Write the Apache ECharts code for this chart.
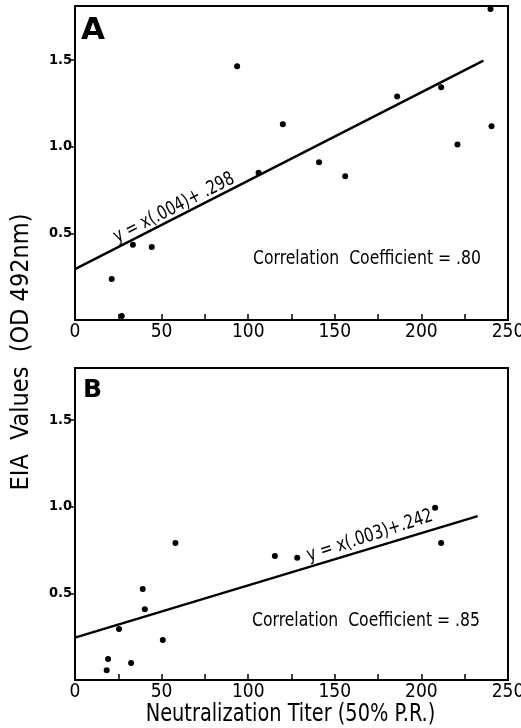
<!DOCTYPE html>
<html>
<head>
<meta charset="utf-8">
<script src="https://cdn.jsdelivr.net/npm/echarts@6/dist/echarts.min.js"></script>
<style>
html,body{margin:0;padding:0;background:#fff;}
#c{width:521px;height:728px;}
</style>
</head>
<body>
<div id="c"></div>
<script>
// Panel A data (Neutralization titer vs EIA OD)
var xA = [93.6, 120, 140.9, 186, 211.4, 220.8, 239.9, 240.5, 106, 156, 33.4, 44.3, 21.2, 27];
var yA = [1.462, 1.128, 0.910, 1.289, 1.341, 1.011, 1.792, 1.117, 0.849, 0.829, 0.434, 0.421, 0.236, 0.023];
// Panel B data
var xB = [58, 115.4, 128.3, 211.4, 207.9, 39.1, 40.3, 25.4, 50.7, 19.1, 32.4, 18.3];
var yB = [0.791, 0.716, 0.706, 0.791, 0.994, 0.525, 0.408, 0.294, 0.231, 0.121, 0.098, 0.056];
// Regression lines as drawn
var lineAx = [0, 235.8];
var lineAy = [0.293, 1.495];
var lineBx = [0, 232.5];
var lineBy = [0.244, 0.946];
// Ticks
var xLabelVals = [0, 50, 100, 150, 200, 250];
var xTickVals = [25, 50, 75, 100, 125, 150, 175, 200, 225];
var yLabelVals = [0.5, 1.0, 1.5];

var FONT = "'Liberation Sans Narrow', 'DejaVu Sans Condensed', 'DejaVu Sans', sans-serif";

function pairs(xs, ys){ return xs.map(function(x,i){ return [x, ys[i]]; }); }

function xAxisDef(gi){
  return {
    type:'value', gridIndex: gi, min:0, max:250,
    axisLine:{show:true, lineStyle:{color:'#000', width:2}},
    axisTick:{show:true, inside:true, length:6, customValues:xTickVals, lineStyle:{color:'#000', width:1.5}},
    axisLabel:{customValues:xLabelVals, color:'#000', fontSize:19, fontFamily:FONT, margin:3},
    splitLine:{show:false}
  };
}
function yAxisDef(gi, mx){
  return {
    type:'value', gridIndex: gi, min:0, max:mx,
    axisLine:{show:true, lineStyle:{color:'#000', width:2}},
    axisTick:{show:true, inside:false, length:4, customValues:yLabelVals, lineStyle:{color:'#000', width:1.5}},
    axisLabel:{customValues:yLabelVals, color:'#000', fontSize:14.5, fontWeight:'bold', fontFamily:FONT, margin:3,
      formatter:function(v){ return v.toFixed(1); }},
    splitLine:{show:false}
  };
}

var chart = echarts.init(document.getElementById('c'), null, {renderer:'canvas'});
chart.setOption({
  backgroundColor:'#fff',
  animation:false,
  grid:[
    {left:75, right:13, top:6, height:314, show:true, borderColor:'#000', borderWidth:2, outerBoundsMode:'none', containLabel:false},
    {left:75, right:13, top:368, height:312, show:true, borderColor:'#000', borderWidth:2, outerBoundsMode:'none', containLabel:false}
  ],
  xAxis:[xAxisDef(0), xAxisDef(1)],
  yAxis:[yAxisDef(0,1.81), yAxisDef(1,1.8)],
  series:[
    {type:'scatter', xAxisIndex:0, yAxisIndex:0, data:pairs(xA,yA), symbolSize:6, itemStyle:{color:'#000', opacity:1}},
    {type:'line', xAxisIndex:0, yAxisIndex:0, data:pairs(lineAx,lineAy), symbol:'none', lineStyle:{color:'#000', width:2.4}},
    {type:'scatter', xAxisIndex:1, yAxisIndex:1, data:pairs(xB,yB), symbolSize:6, itemStyle:{color:'#000', opacity:1}},
    {type:'line', xAxisIndex:1, yAxisIndex:1, data:pairs(lineBx,lineBy), symbol:'none', lineStyle:{color:'#000', width:2.4}}
  ],
  graphic:[
    {type:'text', left:81, top:15, style:{text:'A', font:"bold 31px 'DejaVu Sans', sans-serif", fill:'#000'}},
    {type:'text', left:83, top:378, style:{text:'B', font:"bold 25px 'DejaVu Sans', sans-serif", fill:'#000'}},
    {type:'text', x:174, y:208, rotation:27*Math.PI/180, scaleX:0.86,
      style:{text:'y = x(.004)+ .298', font:"19px "+FONT, fill:'#000', align:'center', verticalAlign:'middle'}},
    {type:'text', x:367, y:259, scaleX:0.915,
      style:{text:'Correlation  Coefficient = .80', font:"19px "+FONT, fill:'#000', align:'center', verticalAlign:'middle'}},
    {type:'text', x:370, y:536, rotation:18*Math.PI/180, scaleX:0.88,
      style:{text:'y = x(.003)+.242', font:"19px "+FONT, fill:'#000', align:'center', verticalAlign:'middle'}},
    {type:'text', x:366, y:621, scaleX:0.915,
      style:{text:'Correlation  Coefficient = .85', font:"19px "+FONT, fill:'#000', align:'center', verticalAlign:'middle'}},
    {type:'text', x:290.5, y:714, scaleX:0.86,
      style:{text:'Neutralization Titer (50% P.R.)', font:"25px "+FONT, fill:'#000', align:'center', verticalAlign:'middle'}},
    {type:'text', x:21, y:352, rotation:Math.PI/2,
      style:{text:'EIA  Values  (OD 492nm)', font:"25px "+FONT, fill:'#000', align:'center', verticalAlign:'middle'}}
  ]
});
</script>
</body>
</html>
